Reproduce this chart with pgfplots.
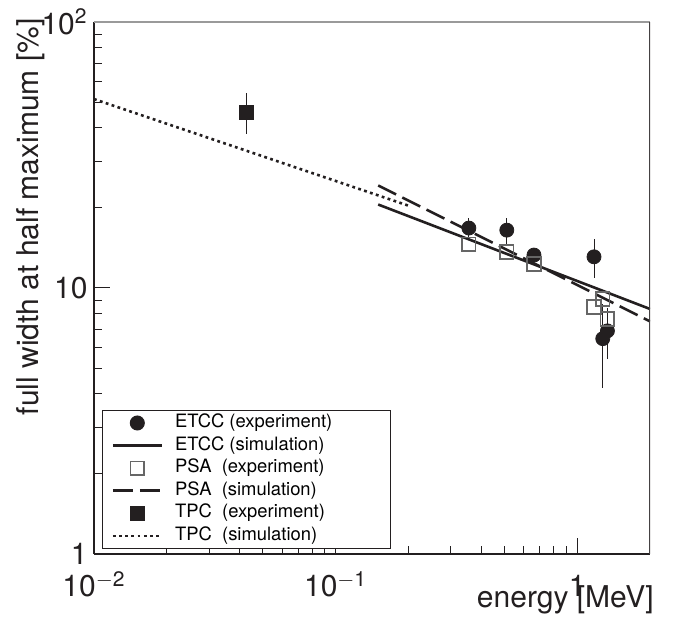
\documentclass[border=0pt]{standalone}
\usepackage{fontspec}
\setmainfont{TeX Gyre Heros}
\usepackage{pgfplots}
\pgfplotsset{compat=1.18}
\definecolor{ink}{HTML}{231F20}
\definecolor{framegray}{HTML}{9A9A9A}
\newcommand{\lentry}[1]{\makebox[103pt][l]{#1}}

\begin{document}
\begin{tikzpicture}
\useasboundingbox (-47pt,-35pt) rectangle (289.5pt,277pt);
\begin{axis}[
  at={(0,0)}, anchor=south west,
  scale only axis, width=278pt, height=266pt,
  xmode=log, ymode=log,
  xmin=0.01, xmax=2, ymin=1, ymax=100,
  axis lines*=left, axis line style={-, ink, line width=0.7pt},
  tick align=inside,
  xtick={0.01,0.1,1}, xticklabels={10\textsuperscript{$-$2},10\textsuperscript{$-$1},1},
  minor xtick={0.02,0.03,0.04,0.05,0.06,0.07,0.08,0.09,0.2,0.3,0.4,0.5,0.6,0.7,0.8,0.9},
  ytick={1,10,100}, yticklabels={1,10,10\textsuperscript{2}},
  minor ytick={2,3,4,5,6,7,8,9,20,30,40,50,60,70,80,90},
  major tick length=8pt, minor tick length=4pt,
  tick style={ink, line width=0.5pt},
  ticklabel style={font=\fontsize{15}{18}\selectfont, ink},
  xticklabel style={anchor=base, inner sep=0pt, yshift=-21.5pt},
  yticklabel style={anchor=east, inner sep=0pt, xshift=-3pt},
  xlabel={energy [MeV]}, ylabel={full width at half maximum [\%]},
  label style={font=\fontsize{15}{18}\selectfont, ink, inner sep=0pt},
  xlabel style={at={(axis description cs:1.0072,-0.1008)}, anchor=base east},
  ylabel style={at={(axis description cs:-0.1007,1.0075)}, anchor=base east},
  legend style={at={(axis description cs:0.0144,0.0094)}, anchor=south west,
    draw=ink, line width=0.5pt, font=\fontsize{9.2}{10}\selectfont,
    inner xsep=4.5pt, inner ysep=2pt, row sep=2.8pt,
    nodes={inner sep=0pt, text height=6.5pt, text depth=2pt},
    /tikz/every odd column/.append style={column sep=6pt}},
  legend cell align=left,
  legend image code/.code={\draw[mark repeat=2,mark phase=2,#1] plot coordinates {(0pt,0pt) (12.25pt,0pt) (24.5pt,0pt)};},
]
% ETCC experiment
\addplot[only marks, mark=*, mark size=3.5pt, ink,
  error bars/.cd, y dir=both, y explicit, error mark=none,
  error bar style={line width=0.5pt, ink}]
  table[x=x, y=y, y error=e] {
x     y     e
0.356 16.8  1.5
0.511 16.5  1.85
0.662 13.3  0.8
1.173 13.1  2.2
1.275 6.45  2.25
1.333 6.9   1.5
};
\addlegendentry{\lentry{ETCC (experiment)}}
% ETCC simulation
\addplot[ink, line width=1.3pt] coordinates {(0.15,20.6) (2,8.34)};
\addlegendentry{\lentry{ETCC (simulation)}}
% PSA experiment
\addplot[only marks, mark=square, mark size=3.4pt, black!60, mark options={line width=0.8pt}]
  table[x=x, y=y] {
x     y
0.356 14.6
0.511 13.66
0.662 12.3
1.173 8.48
1.275 9.09
1.333 7.65
};
\addlegendentry{\lentry{PSA\ \ (experiment)}}
% PSA simulation
\addplot[ink, line width=1.3pt, dash pattern=on 10pt off 3.5pt] coordinates {(0.15,24.3) (2,7.49)};
\addlegendentry{\lentry{PSA\ \ (simulation)}}
% TPC experiment
\addplot[only marks, mark=square*, mark size=3.5pt, ink,
  error bars/.cd, y dir=both, y explicit, error mark=none,
  error bar style={line width=0.5pt, ink}]
  table[x=x, y=y, y error=e] {
x      y     e
0.0429 45.9  8
};
\addlegendentry{\lentry{TPC\ \ (experiment)}}
% TPC simulation
\addplot[ink, line width=1.3pt, dash pattern=on 1.4pt off 1.7pt] coordinates {(0.01,51.3) (0.2,20.4)};
\addlegendentry{\lentry{TPC\ \ (simulation)}}
% frame top and right
\draw[framegray, line width=1pt] (rel axis cs:0,1) -- (rel axis cs:1,1);
\draw[ink!85, line width=0.7pt] (rel axis cs:1,0) -- (rel axis cs:1,1);
\end{axis}
\end{tikzpicture}
\end{document}
